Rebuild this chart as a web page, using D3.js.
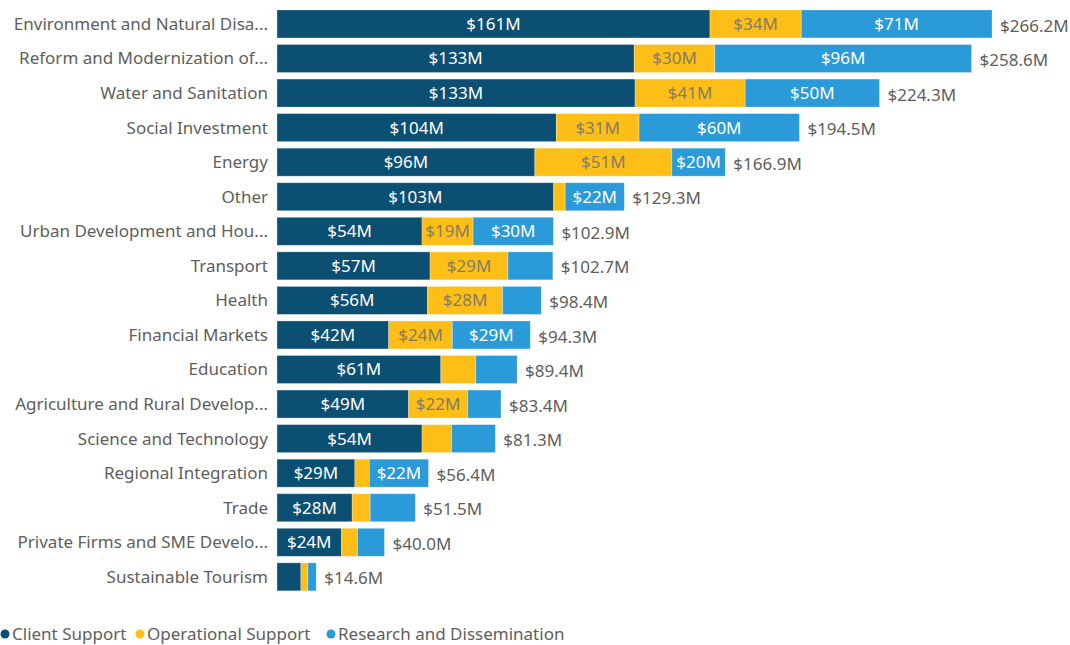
<!DOCTYPE html>
<html>
<head>
<meta charset="utf-8">
<script src="https://cdn.jsdelivr.net/npm/d3@7"></script>
<style>
  html, body { margin: 0; padding: 0; background: #fff; }
  svg { display: block; font-family: "Segoe UI", "Noto Sans", sans-serif; }
</style>
</head>
<body>
<div id="chart"></div>
<script>
// category labels as shown (truncated ones kept as displayed)
var categories = [
	"Environment and Natural Disa...",
	"Reform and Modernization of...",
	"Water and Sanitation",
	"Social Investment",
	"Energy",
	"Other",
	"Urban Development and Hou...",
	"Transport",
	"Health",
	"Financial Markets",
	"Education",
	"Agriculture and Rural Develop...",
	"Science and Technology",
	"Regional Integration",
	"Trade",
	"Private Firms and SME Develo...",
	"Sustainable Tourism"
];

// values in $M
var clientSupport      = [161.2, 133.0, 133.3, 104.0, 96.0, 103.0, 54.0, 57.0, 56.0, 41.6, 61.0, 49.0, 54.0, 29.0, 28.0, 24.0, 8.9];
var operationalSupport = [34.0, 30.0, 41.0, 30.8, 51.0, 4.3, 19.0, 29.0, 28.0, 23.7, 13.0, 22.0, 11.0, 5.4, 6.7, 6.0, 2.6];
var researchDissem     = [71.0, 95.6, 50.0, 59.7, 19.9, 22.0, 29.9, 16.7, 14.4, 29.0, 15.4, 12.4, 16.3, 22.0, 16.8, 10.0, 3.1];

var seriesNames = ["Client Support", "Operational Support", "Research and Dissemination"];
var seriesColors = ["#0b4f73", "#fdbf17", "#2a9ad8"];
var seriesText = ["#ffffff", "#857c62", "#ffffff"];

var width = 1070, height = 645;
var fontSize = "17px";

var rows = categories.map(function(c, i) {
	return { cat: c, cs: clientSupport[i], os: operationalSupport[i], rd: researchDissem[i] };
});
var keys = ["cs", "os", "rd"];
var stacked = d3.stack().keys(keys)(rows);

var svg = d3.select("#chart").append("svg")
	.attr("width", width)
	.attr("height", height);

var totals = rows.map(function(r) { return r.cs + r.os + r.rd; });

var x = d3.scaleLinear()
	.domain([0, d3.max(totals)])
	.range([277, 992]);

var y = d3.scaleBand()
	.domain(categories)
	.range([3.4, 597.4])
	.padding(0.19);

// category labels
svg.append("g").selectAll("text")
	.data(categories)
	.enter().append("text")
	.attr("x", 268)
	.attr("y", function(d) { return y(d) + y.bandwidth() / 2; })
	.attr("dy", "0.35em")
	.attr("text-anchor", "end")
	.style("font-size", fontSize)
	.style("fill", "#605e5c")
	.text(function(d) { return d; });

var fmt = function(v) { return "$" + Math.round(v) + "M"; };

var layers = svg.append("g").selectAll("g")
	.data(stacked)
	.enter().append("g")
	.attr("fill", function(d, i) { return seriesColors[i]; });

layers.selectAll("rect")
	.data(function(d) { return d; })
	.enter().append("rect")
	.attr("x", function(d) { return x(d[0]); })
	.attr("y", function(d) { return y(d.data.cat); })
	.attr("width", function(d) { return x(d[1]) - x(d[0]); })
	.attr("height", y.bandwidth())
	.attr("stroke", "#ffffff")
	.attr("stroke-opacity", 0.35)
	.attr("stroke-width", 0.8);

// segment labels, only where the segment is wide enough
layers.each(function(layer, li) {
	d3.select(this).selectAll("text")
		.data(layer.filter(function(d) { return x(d[1]) - x(d[0]) >= 48; }))
		.enter().append("text")
		.attr("x", function(d) { return (x(d[0]) + x(d[1])) / 2; })
		.attr("y", function(d) { return y(d.data.cat) + y.bandwidth() / 2; })
		.attr("dy", "0.35em")
		.attr("text-anchor", "middle")
		.style("font-size", fontSize)
		.style("fill", seriesText[li])
		.text(function(d) { return fmt(d[1] - d[0]); });
});

// totals
svg.append("g").selectAll("text")
	.data(rows)
	.enter().append("text")
	.attr("x", function(d, i) { return x(totals[i]) + 8; })
	.attr("y", function(d) { return y(d.cat) + y.bandwidth() / 2; })
	.attr("dy", "0.45em")
	.style("font-size", fontSize)
	.style("fill", "#605e5c")
	.text(function(d, i) { return "$" + totals[i].toFixed(1) + "M"; });

// legend
var legendX = [5, 140, 331];
var legend = svg.append("g").selectAll("g")
	.data(seriesNames)
	.enter().append("g")
	.attr("transform", function(d, i) { return "translate(" + legendX[i] + ",634)"; });
legend.append("circle")
	.attr("r", 4.5)
	.attr("fill", function(d, i) { return seriesColors[i]; });
legend.append("text")
	.attr("x", 7)
	.attr("dy", "0.35em")
	.style("font-size", fontSize)
	.style("fill", "#605e5c")
	.text(function(d) { return d; });
</script>
</body>
</html>
